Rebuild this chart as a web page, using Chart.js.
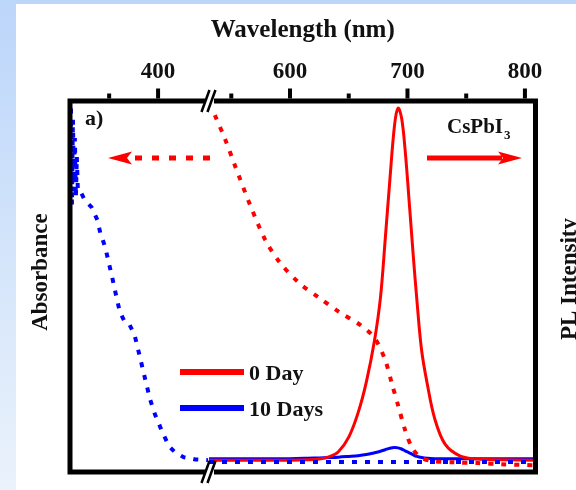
<!DOCTYPE html>
<html>
<head>
<meta charset="utf-8">
<script src="https://cdn.jsdelivr.net/npm/chart.js@4.4.1/dist/chart.umd.min.js"></script>
<style>
  html, body { margin: 0; padding: 0; background: #fff; }
  canvas { display: block; }
</style>
</head>
<body>
<canvas id="c" width="576" height="490"></canvas>
<script>
// ---------- data ----------
// Absorbance, 10 Days (blue dotted) – left segment then right segment (null = axis break)
const absBlueWavelength = [311, 312, 313, 314, 315, 316, 317, 318, 320, 325, 332, 338, 341, 346, 349, 353, 357, 361, 366, 371, 376, 381, 387, 392, 397, 404, 411, 417, 426, 438, 451,
                           490,
                           531, 550, 575, 600, 625, 650, 675, 700, 725, 750, 775, 809];
const absBlueValue      = [0.98, 0.72, 0.95, 0.78, 0.9, 0.74, 0.85, 0.76, 0.76, 0.733, 0.714, 0.679, 0.644, 0.606, 0.571, 0.526, 0.477, 0.431, 0.404, 0.396, 0.369, 0.315, 0.248, 0.194, 0.154, 0.11, 0.07, 0.054, 0.04, 0.034, 0.032,
                           null,
                           0.027, 0.027, 0.027, 0.027, 0.027, 0.027, 0.027, 0.027, 0.027, 0.027, 0.027, 0.027];
// Absorbance, 0 Day (red dotted)
const absRedWavelength = [536, 545, 553, 566, 579, 591, 608, 625, 642, 660, 672, 681, 687, 692, 698, 704, 711, 720, 740, 760, 780, 809];
const absRedValue      = [0.962, 0.895, 0.827, 0.72, 0.625, 0.566, 0.509, 0.469, 0.431, 0.396, 0.361, 0.302, 0.235, 0.18, 0.113, 0.065, 0.04, 0.03, 0.026, 0.024, 0.021, 0.018];
// PL
const plWavelength = [531, 540, 560, 580, 600, 615, 625, 633, 641, 650, 658, 665, 672, 677, 681, 685, 689, 692, 695, 698, 702, 705, 708, 712, 717, 723, 732, 745, 760, 780, 809];
const pl0Day   = [0.032, 0.032, 0.032, 0.032, 0.032, 0.033, 0.035, 0.041, 0.054, 0.094, 0.16, 0.243, 0.356, 0.47, 0.625, 0.787, 0.935, 0.981, 0.954, 0.868, 0.706, 0.58, 0.464, 0.329, 0.235, 0.146, 0.075, 0.043, 0.035, 0.033, 0.032];
const pl10Days = [0.036, 0.036, 0.036, 0.036, 0.036, 0.037, 0.038, 0.039, 0.04, 0.042, 0.044, 0.047, 0.052, 0.056, 0.06, 0.064, 0.066, 0.065, 0.062, 0.057, 0.051, 0.046, 0.042, 0.039, 0.037, 0.036, 0.036, 0.036, 0.036, 0.036, 0.036];

// axis: broken wavelength axis
const leftSegment = [310, 452];
const rightSegment = [531, 809];
const tickValues = [350, 400, 550, 600, 650, 700, 750, 800];
const tickLabels = ['', '400', '', '600', '', '700', '', '800'];

const seriesNames = ['0 Day', '10 Days'];
const RED = '#ff0000', BLUE = '#0000ff', INK = '#111111';
const SERIF = '"Liberation Serif", "Times New Roman", serif';
const BREAK_FRACTION = 139 / 465.6;

// ---------- custom broken linear scale ----------
class BrokenLinearScale extends Chart.LinearScale {
  buildTicks() {
    return tickValues.map(v => ({ value: v }));
  }
  _frac(v) {
    if (v <= leftSegment[1]) return (v - leftSegment[0]) / (leftSegment[1] - leftSegment[0]) * BREAK_FRACTION;
    if (v >= rightSegment[0]) return BREAK_FRACTION + (v - rightSegment[0]) / (rightSegment[1] - rightSegment[0]) * (1 - BREAK_FRACTION);
    return BREAK_FRACTION;
  }
  getPixelForValue(v) {
    return this.left + this._frac(v) * this.width;
  }
  getValueForPixel(p) {
    const f = (p - this.left) / this.width;
    if (f <= BREAK_FRACTION) return leftSegment[0] + f / BREAK_FRACTION * (leftSegment[1] - leftSegment[0]);
    return rightSegment[0] + (f - BREAK_FRACTION) / (1 - BREAK_FRACTION) * (rightSegment[1] - rightSegment[0]);
  }
}
BrokenLinearScale.id = 'brokenLinear';
BrokenLinearScale.defaults = { ticks: { callback: (v) => String(v) } };
Chart.register(BrokenLinearScale);

const toXY = (xs, ys) => xs.map((x, i) => ({ x, y: ys[i] }));

// ---------- decorations ----------
function arrowHead(ctx, tipX, y, dir) {
  const len = 24, half = 6.5, notch = 5;
  ctx.beginPath();
  ctx.moveTo(tipX, y);
  ctx.lineTo(tipX - dir * len, y - half);
  ctx.lineTo(tipX - dir * (len - notch), y);
  ctx.lineTo(tipX - dir * len, y + half);
  ctx.closePath();
  ctx.fill();
}

const decoPlugin = {
  id: 'deco',
  beforeDraw(chart) {
    const ctx = chart.ctx;
    ctx.save();
    const g = ctx.createLinearGradient(0, 0, 0, chart.height);
    g.addColorStop(0, '#bcd6fa');
    g.addColorStop(1, '#eaf2fb');
    ctx.fillStyle = g;
    ctx.fillRect(0, 0, chart.width, chart.height);
    ctx.fillStyle = '#ffffff';
    ctx.fillRect(16, 4, chart.width - 16, chart.height - 4);
    ctx.restore();
  },
  afterDraw(chart) {
    const ctx = chart.ctx;
    const a = chart.chartArea;
    const xs = chart.scales.x;
    const bx = xs.left + BREAK_FRACTION * xs.width;
    ctx.save();
    // frame
    ctx.strokeStyle = '#000';
    ctx.lineWidth = 5;
    ctx.lineCap = 'butt';
    ctx.beginPath();
    ctx.moveTo(a.left, a.top - 2.5); ctx.lineTo(a.left, a.bottom + 2.5);
    ctx.moveTo(a.right, a.top - 2.5); ctx.lineTo(a.right, a.bottom + 2.5);
    ctx.moveTo(a.left - 2.5, a.top); ctx.lineTo(bx - 4, a.top);
    ctx.moveTo(bx + 5, a.top); ctx.lineTo(a.right + 2.5, a.top);
    ctx.moveTo(a.left - 2.5, a.bottom); ctx.lineTo(bx - 4, a.bottom);
    ctx.moveTo(bx + 5, a.bottom); ctx.lineTo(a.right + 2.5, a.bottom);
    ctx.stroke();
    // break marks
    ctx.lineWidth = 2.5;
    [a.top, a.bottom].forEach(yc => {
      ctx.beginPath();
      ctx.moveTo(bx - 7.5, yc + 11); ctx.lineTo(bx + 0.5, yc - 11);
      ctx.moveTo(bx - 1.5, yc + 11); ctx.lineTo(bx + 6.5, yc - 11);
      ctx.stroke();
    });
    // ticks on top axis
    ctx.lineWidth = 4;
    xs.ticks.forEach((t, i) => {
      const px = xs.getPixelForValue(t.value);
      const len = tickLabels[i] ? 10 : 5;
      ctx.beginPath();
      ctx.moveTo(px, a.top - 2.5); ctx.lineTo(px, a.top - 2.5 - len);
      ctx.stroke();
    });
    // y titles
    ctx.fillStyle = INK;
    ctx.font = 'bold 23px ' + SERIF;
    ctx.textAlign = 'center';
    ctx.textBaseline = 'middle';
    ctx.save(); ctx.translate(41, 272); ctx.rotate(-Math.PI / 2); ctx.fillText('Absorbance', 0, 0); ctx.restore();
    ctx.save(); ctx.translate(570, 279); ctx.rotate(-Math.PI / 2); ctx.fillText('PL Intensity', 0, 0); ctx.restore();
    // panel label
    ctx.textAlign = 'left';
    ctx.textBaseline = 'alphabetic';
    ctx.font = 'bold 22px ' + SERIF;
    ctx.fillText('a)', 85, 125);
    // CsPbI3
    ctx.font = 'bold 21px ' + SERIF;
    ctx.fillText('CsPbI', 447, 133);
    const w = ctx.measureText('CsPbI').width;
    ctx.font = 'bold 13px ' + SERIF;
    ctx.fillText('3', 447 + w + 1, 139);
    // arrows
    ctx.strokeStyle = RED; ctx.fillStyle = RED;
    ctx.lineWidth = 5;
    ctx.setLineDash([7, 10]);
    ctx.beginPath(); ctx.moveTo(210, 158); ctx.lineTo(130, 158); ctx.stroke();
    ctx.setLineDash([]);
    arrowHead(ctx, 108, 158, -1);
    ctx.beginPath(); ctx.moveTo(427, 158); ctx.lineTo(502, 158); ctx.stroke();
    arrowHead(ctx, 522, 158, 1);
    // legend
    const legend = [{ c: RED, y: 372 }, { c: BLUE, y: 408 }];
    legend.forEach((L, i) => {
      ctx.strokeStyle = L.c; ctx.lineWidth = 6;
      ctx.beginPath(); ctx.moveTo(180, L.y); ctx.lineTo(244, L.y); ctx.stroke();
      ctx.fillStyle = INK;
      ctx.font = 'bold 22px ' + SERIF;
      ctx.textBaseline = 'middle';
      ctx.fillText(seriesNames[i], 249, L.y + 2);
    });
    ctx.restore();
  }
};

new Chart(document.getElementById('c'), {
  type: 'line',
  data: {
    datasets: [
      { label: 'Abs 10 Days', data: toXY(absBlueWavelength, absBlueValue), borderColor: BLUE, borderWidth: 4, borderDash: [5, 8], pointRadius: 0, tension: 0, spanGaps: false },
      { label: 'Abs 0 Day', data: toXY(absRedWavelength, absRedValue), borderColor: RED, borderWidth: 4, borderDash: [5, 8], pointRadius: 0, tension: 0.3 },
      { label: 'PL 0 Day', data: toXY(plWavelength, pl0Day), borderColor: RED, borderWidth: 3, pointRadius: 0, tension: 0.35 },
      { label: 'PL 10 Days', data: toXY(plWavelength, pl10Days), borderColor: BLUE, borderWidth: 3, pointRadius: 0, tension: 0.35 }
    ]
  },
  options: {
    responsive: false,
    animation: false,
    devicePixelRatio: 1,
    layout: { padding: { left: 70, right: 40.5, top: 0, bottom: 18 } },
    plugins: { legend: { display: false }, tooltip: { enabled: false } },
    scales: {
      x: {
        type: 'brokenLinear',
        position: 'top',
        min: leftSegment[0],
        max: rightSegment[1],
        grid: { display: false },
        border: { display: false },
        ticks: {
          autoSkip: false,
          maxRotation: 0,
          padding: 7,
          color: INK,
          font: { family: SERIF, size: 23, weight: 'bold' },
          callback: (v) => tickLabels[tickValues.indexOf(v)] ?? ''
        },
        title: {
          display: true,
          text: 'Wavelength (nm)',
          color: INK,
          font: { family: SERIF, size: 25, weight: 'bold' },
          padding: { top: 16, bottom: 0 }
        },
        afterFit: (s) => { s.height = 101; }
      },
      y: { type: 'linear', min: 0, max: 1, display: false }
    }
  },
  plugins: [decoPlugin]
});
</script>
</body>
</html>
